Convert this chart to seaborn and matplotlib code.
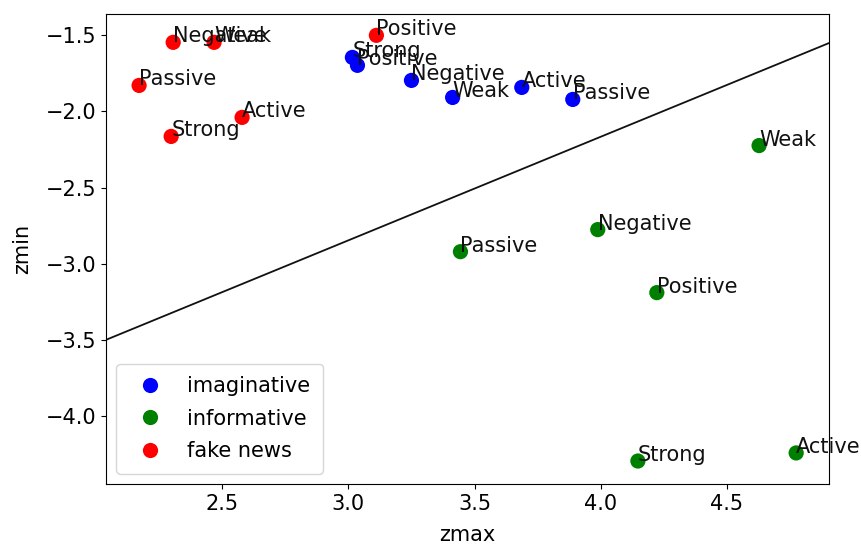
import matplotlib
matplotlib.use("Agg")
import matplotlib.pyplot as plt
import seaborn as sns
import pandas as pd

labels = ["Negative", "Weak", "Passive", "Strong", "Active", "Positive"]

fake_zmax = [2.306, 2.468, 2.171, 2.298, 2.579, 3.111]
fake_zmin = [-1.546, -1.546, -1.829, -2.164, -2.039, -1.500]

imag_labels = ["Strong", "Positive", "Negative", "Weak", "Active", "Passive"]
imag_zmax = [3.016, 3.036, 3.250, 3.413, 3.687, 3.889]
imag_zmin = [-1.645, -1.697, -1.796, -1.908, -1.842, -1.921]

info_labels = ["Weak", "Negative", "Passive", "Positive", "Strong", "Active"]
info_zmax = [4.627, 3.988, 3.444, 4.222, 4.147, 4.774]
info_zmin = [-2.224, -2.776, -2.921, -3.190, -4.296, -4.243]

line_x = [2.04, 4.905]
line_y = [-3.50, -1.55]

rows = []
for g, lab, xs, ys in [("imaginative", imag_labels, imag_zmax, imag_zmin),
                       ("informative", info_labels, info_zmax, info_zmin),
                       ("fake news", labels, fake_zmax, fake_zmin)]:
    for l, x, y in zip(lab, xs, ys):
        rows.append({"group": g, "label": l, "zmax": x, "zmin": y})
df = pd.DataFrame(rows)

plt.rcParams["font.size"] = 15
fig = plt.figure(figsize=(8.62, 5.5), dpi=100)
ax = fig.add_axes([0.123, 0.12, 0.839, 0.8545])

palette = {"imaginative": "blue", "informative": "green", "fake news": "red"}
sns.scatterplot(data=df, x="zmax", y="zmin", hue="group", palette=palette,
                s=120, edgecolor="none", ax=ax)
for _, r in df.iterrows():
    ax.text(r["zmax"], r["zmin"], r["label"], fontsize=15, color="#111111")

ax.plot(line_x, line_y, color="#111111", lw=1.3)

ax.set_xlim(2.04, 4.905)
ax.set_ylim(-4.447, -1.36)
ax.set_xticks([2.5, 3.0, 3.5, 4.0, 4.5])
ax.set_yticks([-4.0, -3.5, -3.0, -2.5, -2.0, -1.5])
ax.set_xlabel("zmax", labelpad=8)
ax.set_ylabel("zmin", labelpad=10)
ax.legend(loc="lower left", title=None, markerscale=1.0, borderpad=0.6,
          labelspacing=0.6)

fig.savefig("out.png", dpi=100)
